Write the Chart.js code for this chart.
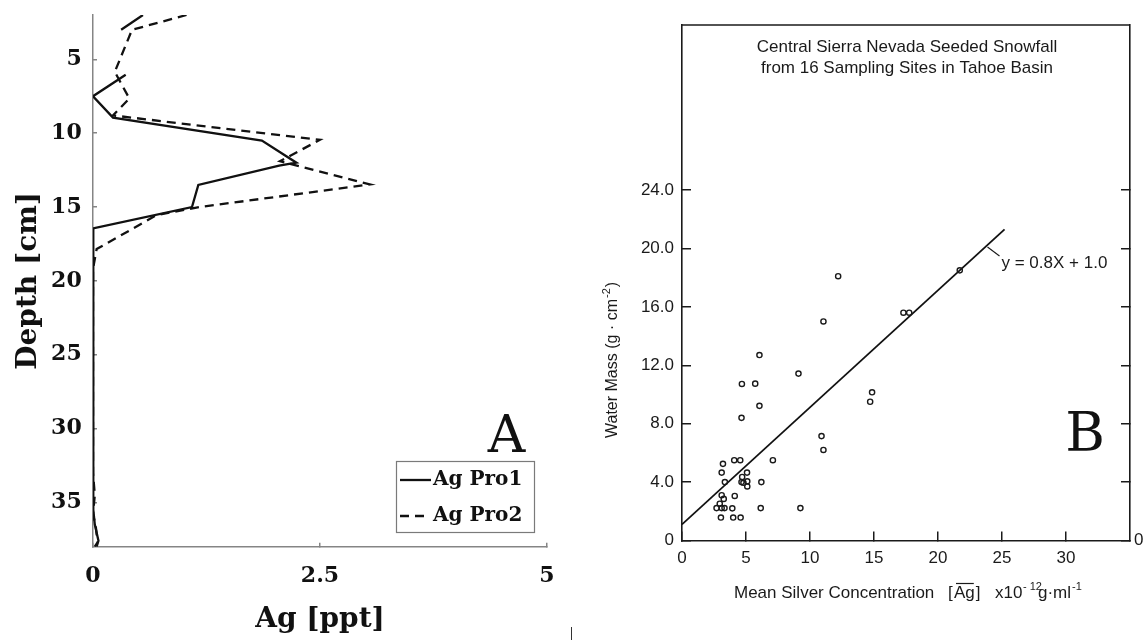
<!DOCTYPE html>
<html><head><meta charset="utf-8">
<script src="https://cdn.jsdelivr.net/npm/chart.js@4.4.1/dist/chart.umd.min.js"></script>
<style>
html,body{margin:0;padding:0;background:#fff;width:1143px;height:640px;overflow:hidden}
#ca{position:absolute;left:0;top:0}
#cb{position:absolute;left:590px;top:0}
</style></head><body>
<canvas id="ca" width="590" height="640"></canvas>
<canvas id="cb" width="553" height="640"></canvas>
<script>
// ---------- Panel A: depth profiles ----------
const seriesNames = ['Ag Pro1', 'Ag Pro2'];
const pro1Ppt   = [0.55, 0.31, null, 0.36, 0.00, 0.22, 1.86, 2.24, 2.05, 1.16, 1.09, 0.00, 0.00, 0.01, 0.00, 0.02, 0.06, 0.04];
const pro1Depth = [2.0,  3.0,  4.5,  6.05, 7.5,  8.95, 10.5, 12.0, 12.2, 13.5, 15.0, 16.45, 32.5, 34.0, 35.5, 36.5, 37.6, 38.0];
const pro2Ppt   = [1.03, 0.43, 0.24, 0.40, 0.22, 2.50, 2.06, 3.05, 1.18, 0.70, 0.04, 0.00, 0.00, 0.02, 0.00, 0.03, 0.05, 0.02];
const pro2Depth = [2.0,  3.0,  5.85, 7.65, 8.8,  10.45, 11.9, 13.47, 15.0, 15.55, 17.85, 19.2, 33.0, 34.5, 35.8, 36.6, 37.7, 38.0];
const depthTicks = [5, 10, 15, 20, 25, 30, 35];
const pptTicks = [0, 2.5, 5];

// ---------- Panel B: water mass vs silver ----------
const silverConc = [11.05, 6.05, 9.1, 4.68, 5.72, 6.05, 4.65, 14.85, 14.7, 10.9, 11.05, 7.1, 3.2, 4.08, 4.55, 3.1, 5.08, 3.35, 4.7, 4.8, 5.1, 5.1, 6.2, 3.1, 3.26, 4.12, 2.95, 2.7, 3.1, 3.32, 3.93, 6.15, 9.25, 3.04, 4.0, 4.58, 17.3, 17.75, 4.65, 12.2, 21.7];
const waterMass  = [15.0, 12.7, 11.43, 10.72, 10.74, 9.22, 8.4, 10.15, 9.5, 7.15, 6.2, 5.5, 5.25, 5.5, 5.5, 4.65, 4.65, 4.0, 4.35, 3.95, 4.05, 3.7, 4.0, 3.1, 2.85, 3.05, 2.52, 2.22, 2.22, 2.22, 2.2, 2.22, 2.22, 1.57, 1.57, 1.57, 15.6, 15.6, 4.0, 18.1, 18.5];
const fitConc = [0, 25.2];
const fitMass = [1.1, 21.3];
const massTicks = [0, 4, 8, 12, 16, 20, 24];
const concTicks = [0, 5, 10, 15, 20, 25, 30];

const pts = (xs, ys) => xs.map((x, i) => ({x: x, y: ys[i]}));
const SERIF = '"DejaVu Serif"';
const SANS = '"Liberation Sans", Arial, sans-serif';
const INK = '#111';
const noPad = s => { s.paddingTop = 0; s.paddingBottom = 0; s.paddingLeft = 0; s.paddingRight = 0; };

// ---------- Panel A ----------
const panelADecor = {
  id: 'panelADecor',
  afterDraw(chart) {
    const ctx = chart.ctx;
    ctx.save();
    ctx.strokeStyle = '#7a7a7a'; ctx.lineWidth = 1.2; ctx.setLineDash([]);
    ctx.strokeRect(396.5, 461.5, 138, 71);
    const rows = [480, 516];
    chart.data.datasets.forEach((ds, i) => {
      ctx.beginPath();
      ctx.setLineDash(ds.borderDash || []);
      ctx.lineWidth = ds.borderWidth; ctx.strokeStyle = ds.borderColor;
      ctx.moveTo(400, rows[i]); ctx.lineTo(i === 0 ? 431 : 425, rows[i]); ctx.stroke();
      ctx.setLineDash([]);
      ctx.fillStyle = INK; ctx.font = 'bold 20px ' + SERIF;
      ctx.textBaseline = 'middle'; ctx.textAlign = 'left';
      ctx.fillText(ds.label, 433, rows[i]);
    });
    ctx.font = '52px ' + SERIF; ctx.textAlign = 'center'; ctx.textBaseline = 'alphabetic';
    ctx.fillText('A', 506.5, 452);
    ctx.beginPath(); ctx.strokeStyle = '#333'; ctx.lineWidth = 1;
    ctx.moveTo(571.5, 627); ctx.lineTo(571.5, 640); ctx.stroke();
    ctx.restore();
  }
};

new Chart(document.getElementById('ca'), {
  type: 'scatter',
  data: {datasets: [
    {label: seriesNames[0], data: pts(pro1Ppt, pro1Depth), showLine: true, borderColor: INK, borderWidth: 2.3, pointRadius: 0, spanGaps: false},
    {label: seriesNames[1], data: pts(pro2Ppt, pro2Depth), showLine: true, borderColor: INK, borderWidth: 2.3, borderDash: [9, 6], pointRadius: 0, spanGaps: false}
  ]},
  options: {
    responsive: false, animation: false, devicePixelRatio: 1,
    layout: {padding: {top: 15, right: 43, left: 0, bottom: 0}},
    plugins: {legend: {display: false}, tooltip: {enabled: false}},
    scales: {
      x: {
        type: 'linear', min: 0, max: 5,
        afterBuildTicks: s => { s.ticks = pptTicks.map(v => ({value: v})); },
        afterFit: s => { s.height = 93.3; noPad(s); },
        ticks: {callback: v => String(v), font: {family: SERIF, size: 22, weight: 'bold'}, color: INK, padding: 20.8, maxRotation: 0, autoSkip: false},
        grid: {drawOnChartArea: false, drawTicks: true, tickLength: -4, color: '#858585', lineWidth: 1.5},
        border: {display: true, color: '#858585', width: 1.5},
        title: {display: true, text: 'Ag [ppt]', font: {family: SERIF, size: 28, weight: 'bold'}, color: INK, padding: {top: 0, bottom: 3}}
      },
      y: {
        type: 'linear', min: 2, max: 38, reverse: true,
        afterBuildTicks: s => { s.ticks = depthTicks.map(v => ({value: v})); },
        afterFit: s => { s.width = 93; noPad(s); },
        ticks: {callback: v => String(v), font: {family: SERIF, size: 22, weight: 'bold'}, color: INK, padding: 15.3, autoSkip: false},
        grid: {drawOnChartArea: false, drawTicks: true, tickLength: -4, color: '#858585', lineWidth: 1.5},
        border: {display: true, color: '#858585', width: 1.5},
        title: {display: true, text: 'Depth [cm]', font: {family: SERIF, size: 28, weight: 'bold'}, color: INK, padding: {top: 12, bottom: 0}}
      }
    }
  },
  plugins: [panelADecor]
});

// ---------- Panel B ----------
const panelBDecor = {
  id: 'panelBDecor',
  afterDraw(chart) {
    const ctx = chart.ctx;
    const a = chart.chartArea;
    ctx.save();
    ctx.strokeStyle = '#1a1a1a'; ctx.lineWidth = 1.6;
    ctx.beginPath(); ctx.moveTo(a.left, a.top); ctx.lineTo(a.right, a.top); ctx.stroke();
    ctx.fillStyle = '#1a1a1a';
    ctx.textAlign = 'center'; ctx.textBaseline = 'middle';
    ctx.font = '17px ' + SANS;
    ctx.fillText('Central Sierra Nevada Seeded Snowfall', 317, 47);
    ctx.fillText('from 16 Sampling Sites in Tahoe Basin', 317, 68.5);
    // y title
    ctx.save();
    ctx.translate(23, 438); ctx.rotate(-Math.PI / 2);
    ctx.textAlign = 'left'; ctx.textBaseline = 'middle';
    ctx.font = '16px ' + SANS;
    let t = 'Water Mass (g \u00b7 cm';
    ctx.fillText(t, 0, 0);
    let w = ctx.measureText(t).width;
    ctx.font = '11px ' + SANS; ctx.fillText('-2', w + 1, -6);
    w += ctx.measureText('-2').width + 2;
    ctx.font = '16px ' + SANS; ctx.fillText(')', w, 0);
    ctx.restore();
    // x title
    const ty = 593.5;
    ctx.textAlign = 'left'; ctx.textBaseline = 'middle';
    ctx.font = '17px ' + SANS;
    ctx.fillText('Mean Silver Concentration', 144, ty);
    ctx.fillText('[', 358, ty);
    ctx.fillText('Ag', 364, ty);
    const agW = ctx.measureText('Ag').width;
    ctx.fillText(']', 364 + agW + 1, ty);
    ctx.lineWidth = 1.2; ctx.beginPath(); ctx.moveTo(366, ty - 10); ctx.lineTo(364 + agW - 1, ty - 10); ctx.stroke();
    ctx.fillText('x10', 405, ty);
    ctx.font = '11px ' + SANS; ctx.fillText('- 12', 405 + 28, ty - 7);
    ctx.font = '17px ' + SANS;
    const gx = 448;
    ctx.fillText('g\u00b7ml', gx, ty);
    const gw = ctx.measureText('g\u00b7ml').width;
    ctx.font = '11px ' + SANS; ctx.fillText('-1', gx + gw + 1, ty - 7);
    // equation + leader
    ctx.font = '17px ' + SANS; ctx.textBaseline = 'middle';
    ctx.fillText('y = 0.8X + 1.0', 411.5, 263);
    ctx.lineWidth = 1.1; ctx.beginPath(); ctx.moveTo(397.5, 247); ctx.lineTo(409.5, 256); ctx.stroke();
    // B label
    ctx.fillStyle = INK; ctx.font = '54px ' + SERIF; ctx.textAlign = 'center'; ctx.textBaseline = 'alphabetic';
    ctx.fillText('B', 495, 450.5);
    ctx.restore();
  }
};

const tickFontB = {family: SANS, size: 17};
new Chart(document.getElementById('cb'), {
  type: 'scatter',
  data: {datasets: [
    {label: 'sites', data: pts(silverConc, waterMass), showLine: false, pointRadius: 2.6, pointBorderWidth: 1.4, pointBackgroundColor: 'rgba(255,255,255,0)', pointBorderColor: '#1a1a1a'},
    {label: 'fit', data: pts(fitConc, fitMass), showLine: true, pointRadius: 0, borderColor: INK, borderWidth: 1.8}
  ]},
  options: {
    responsive: false, animation: false, devicePixelRatio: 1,
    layout: {padding: {top: 25, right: 0, left: 0, bottom: 0}},
    plugins: {legend: {display: false}, tooltip: {enabled: false}},
    scales: {
      x: {
        type: 'linear', min: 0, max: 35,
        afterBuildTicks: s => { s.ticks = concTicks.map(v => ({value: v})); },
        afterFit: s => { s.height = 99.5; noPad(s); },
        ticks: {callback: v => String(v), font: tickFontB, color: '#1a1a1a', padding: 17, maxRotation: 0, autoSkip: false},
        grid: {drawOnChartArea: false, drawTicks: true, tickLength: -9, color: '#1a1a1a', lineWidth: 1.5},
        border: {display: true, color: '#1a1a1a', width: 1.6}
      },
      y: {
        type: 'linear', position: 'left', min: 0, max: 35.3,
        afterBuildTicks: s => { s.ticks = massTicks.map(v => ({value: v})); },
        afterFit: s => { s.width = 92; noPad(s); },
        ticks: {callback: v => v === 0 ? '0' : v.toFixed(1), font: tickFontB, color: '#1a1a1a', padding: 17, autoSkip: false},
        grid: {drawOnChartArea: false, drawTicks: true, tickLength: -9, color: '#1a1a1a', lineWidth: 1.5},
        border: {display: true, color: '#1a1a1a', width: 1.6}
      },
      y2: {
        type: 'linear', position: 'right', min: 0, max: 35.3,
        afterBuildTicks: s => { s.ticks = massTicks.map(v => ({value: v})); },
        afterFit: s => { s.width = 13; noPad(s); },
        ticks: {callback: v => v === 0 ? '0' : '', font: tickFontB, color: '#1a1a1a', padding: 13, autoSkip: false},
        grid: {drawOnChartArea: false, drawTicks: true, tickLength: -9, color: '#1a1a1a', lineWidth: 1.5},
        border: {display: true, color: '#1a1a1a', width: 1.6}
      }
    }
  },
  plugins: [panelBDecor]
});
</script>
</body></html>
